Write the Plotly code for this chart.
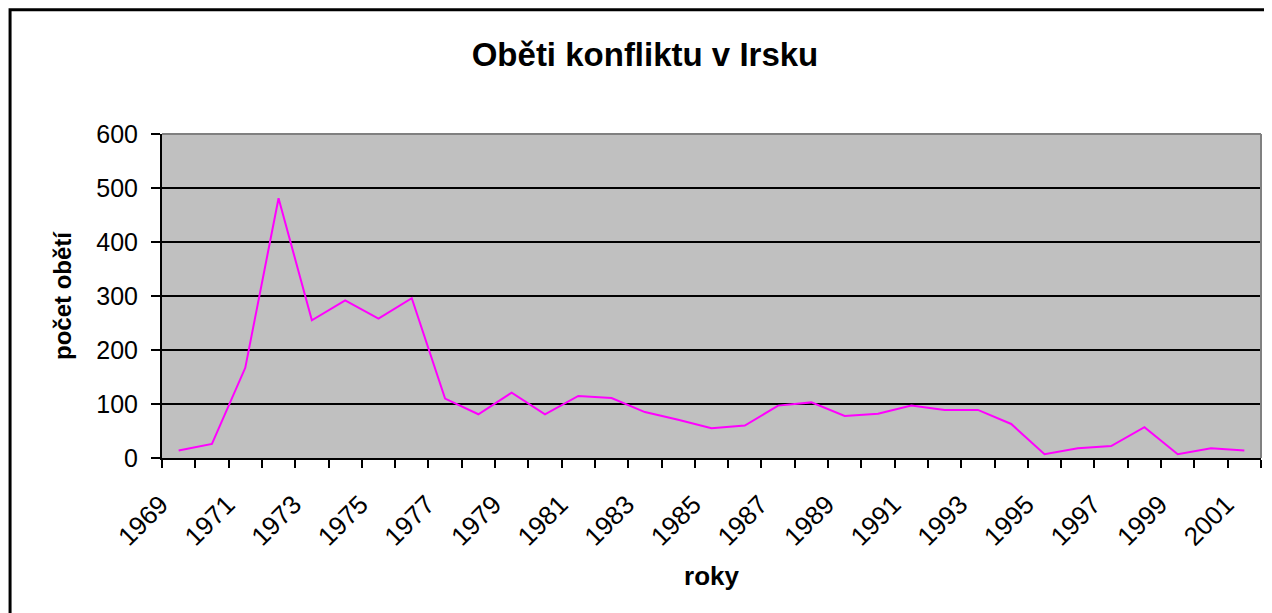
import plotly.graph_objects as go

years = list(range(1969, 2002))
deaths = [14, 26, 167, 481, 255, 292, 258, 296, 110, 81, 121, 81, 115, 111, 85, 71,
          55, 60, 97, 103, 78, 82, 97, 89, 89, 63, 7, 18, 22, 57, 7, 18, 14]
label_years = years[::2]
y_ticks = [0, 100, 200, 300, 400, 500, 600]

title_text = "Oběti konfliktu v Irsku"
x_title = "roky"
y_title = "počet obětí"

FONT = "Liberation Sans, Arial, sans-serif"
W, H = 1264, 605

fig = go.Figure()
fig.add_trace(go.Scatter(x=years, y=deaths, mode="lines",
                         line=dict(color="#FF00FF", width=2), showlegend=False))

boundaries = [y - 0.5 for y in years] + [years[-1] + 0.5]

fig.update_layout(
    width=W, height=H,
    margin=dict(l=153.5, r=11, t=126.3, b=154.7, autoexpand=False),
    paper_bgcolor="white",
    plot_bgcolor="#C0C0C0",
    font=dict(family=FONT, color="black", size=25),
    title=dict(text="<b>" + title_text + "</b>", x=637 / W, xanchor="center",
               xref="container",
               y=1 - 46 / H, yanchor="middle", font=dict(size=33, family=FONT)),
    xaxis=dict(
        range=[years[0] - 0.5, years[-1] + 0.5],
        tickmode="array", tickvals=label_years, ticktext=[str(y) for y in label_years],
        tickangle=-45, ticks="", showgrid=False, zeroline=False,
        showline=True, linecolor="black", linewidth=2,
        tickfont=dict(size=26),
        ticklabelstandoff=19,
        ticklabelshift=-18,
        minor=dict(tickmode="array", tickvals=boundaries, ticks="outside",
                   ticklen=8, tickwidth=2, tickcolor="black", showgrid=False),
        title=dict(text="<b>" + x_title + "</b>", font=dict(size=26), standoff=16),
    ),
    yaxis=dict(
        range=[0, 600], tickmode="array", tickvals=y_ticks,
        ticks="outside", ticklen=9, tickwidth=2, tickcolor="black",
        showgrid=True, gridcolor="black", gridwidth=2, zeroline=False,
        showline=True, linecolor="black", linewidth=2,
        tickfont=dict(size=25),
        ticklabelstandoff=8,
        title=dict(text="<b>" + y_title + "</b>", font=dict(size=24), standoff=18),
    ),
    shapes=[
        dict(type="line", xref="paper", yref="paper", x0=0, x1=1, y0=1, y1=1,
             line=dict(color="#808080", width=2), layer="above"),
        dict(type="line", xref="paper", yref="paper", x0=1, x1=1, y0=0, y1=1,
             line=dict(color="#808080", width=2), layer="above"),
        dict(type="rect", xref="paper", yref="paper",
             x0=-0.13825, x1=1.05, y0=1.3836, y1=-0.6,
             line=dict(color="black", width=3), fillcolor="rgba(0,0,0,0)", layer="above"),
    ],
)

fig.write_html("out.html")
